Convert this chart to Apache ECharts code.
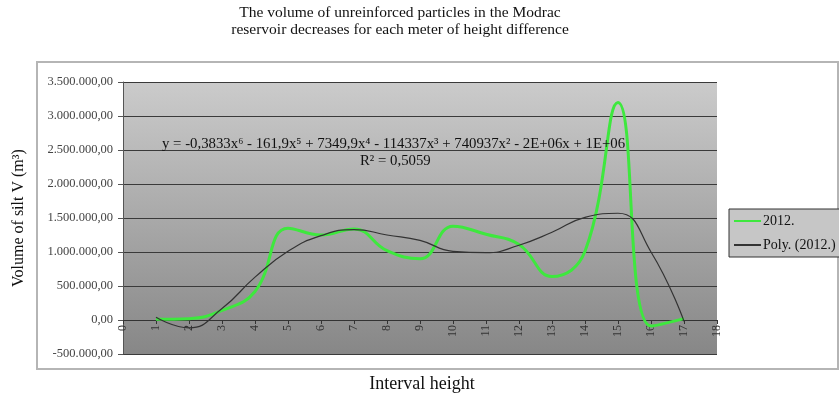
<!DOCTYPE html>
<html>
<head>
<meta charset="utf-8">
<script src="https://cdn.jsdelivr.net/npm/echarts@6/dist/echarts.min.js"></script>
<style>html,body{margin:0;padding:0;background:#fff;}#c{width:839px;height:396px;}</style>
</head>
<body>
<div id="c"></div>
<script>
const titleLines = ['The volume of unreinforced particles in the Modrac', 'reservoir decreases for each meter of height difference'];
const yAxisTitle = 'Volume of silt V (m\u00B3)';
const xAxisTitle = 'Interval height';
const equationText = 'y = -0,3833x\u2076 - 161,9x\u2075 + 7349,9x\u2074 - 114337x\u00B3 + 740937x\u00B2 - 2E+06x + 1E+06';
const r2Text = 'R\u00B2 = 0,5059';
const seriesNames = ['2012.', 'Poly. (2012.)'];
const xValues = [1, 2, 3, 4, 5, 6, 7, 8, 9, 10, 11, 12, 13, 14, 15, 16, 17];
const silt2012 = [10000, 20000, 140000, 420000, 1350000, 1250000, 1340000, 1020000, 900000, 1380000, 1260000, 1110000, 640000, 1010000, 3200000, -90000, 20000];
const polyTrend = [40000, -115000, 170000, 630000, 1010000, 1240000, 1330000, 1250000, 1170000, 1010000, 990000, 1100000, 1290000, 1510000, 1570000, 1000000, -20000];
const yMin = -500000, yMax = 3500000, yStep = 500000;
const xMin = 0, xMax = 18, xStep = 1;

function fmt(v) {
  const neg = v < 0;
  let s = Math.abs(Math.round(v)).toString();
  s = s.replace(/\B(?=(\d{3})+(?!\d))/g, '.');
  return (neg ? '-' : '') + s + ',00';
}

const chart = echarts.init(document.getElementById('c'), null, {renderer: 'canvas'});
const serif = '"Liberation Serif", "DejaVu Serif", serif';
chart.setOption({
  animation: false,
  backgroundColor: '#fff',
  textStyle: {fontFamily: serif},
  grid: {
    left: 123, right: 122, top: 82, bottom: 42,
    containLabel: false,
    outerBoundsMode: 'none',
    show: true,
    borderWidth: 0,
    backgroundColor: new echarts.graphic.LinearGradient(0, 0, 0, 1, [
      {offset: 0, color: '#cbcbcb'},
      {offset: 1, color: '#878787'}
    ])
  },
  legend: {
    orient: 'vertical',
    left: 729, top: 209,
    padding: [5, 6, 5, 4],
    itemWidth: 27, itemHeight: 14, itemGap: 10,
    backgroundColor: '#c6c6c6',
    borderColor: '#333', borderWidth: 1,
    itemStyle: {opacity: 0, color: 'transparent', borderWidth: 0},
    textStyle: {fontFamily: serif, fontSize: 14, color: '#111', padding: [0, 0, 0, -3]},
    data: seriesNames
  },
  xAxis: {
    type: 'value', min: xMin, max: xMax, interval: xStep,
    offset: -34,
    axisLine: {show: true, onZero: false, lineStyle: {color: '#333', width: 1}},
    axisTick: {show: true, inside: false, length: 4, lineStyle: {color: '#333'}},
    axisLabel: {rotate: 90, fontFamily: serif, fontSize: 12, color: '#333', margin: 5},
    splitLine: {show: false}
  },
  yAxis: {
    type: 'value', min: yMin, max: yMax, interval: yStep,
    name: yAxisTitle, nameLocation: 'middle', nameGap: 86,
    nameTextStyle: {fontFamily: serif, fontSize: 16, color: '#111', padding: [0, 0, 10, 0]},
    axisLine: {show: true, lineStyle: {color: '#555'}},
    axisTick: {show: true, length: 5, lineStyle: {color: '#555'}},
    axisLabel: {formatter: fmt, fontFamily: serif, fontSize: 12.5, color: '#444', margin: 10},
    splitLine: {show: true, lineStyle: {color: '#3a3a3a', width: 1}}
  },
  graphic: [
    {type: 'rect', shape: {x: 37, y: 62, width: 801, height: 307}, style: {fill: 'none', stroke: '#b5b5b5', lineWidth: 2}, z: -1, silent: true},
    {type: 'text', x: 400, y: 4, style: {text: titleLines.join('\n'), font: '15.5px ' + serif, fill: '#111', align: 'center', lineHeight: 17}},
    {type: 'text', x: 422, y: 375, style: {text: xAxisTitle, font: '18px ' + serif, fill: '#111', align: 'center'}},
    {type: 'text', x: 162, y: 137, z: 10, style: {text: equationText, font: '14.8px ' + serif, fill: '#111'}},
    {type: 'text', x: 360, y: 154, z: 10, style: {text: r2Text, font: '14.8px ' + serif, fill: '#111'}}
  ],
  series: [
    {
      name: seriesNames[0], type: 'line', smooth: 0.45, symbol: 'none',
      data: xValues.map((x, i) => [x, silt2012[i]]),
      lineStyle: {color: '#3ee83e', width: 3}, itemStyle: {color: '#3ee83e'}, z: 3
    },
    {
      name: seriesNames[1], type: 'line', smooth: 0.5, symbol: 'none',
      data: xValues.map((x, i) => [x, polyTrend[i]]),
      lineStyle: {color: '#333', width: 1.2}, itemStyle: {color: '#333'}, z: 4
    }
  ]
});
</script>
</body>
</html>
